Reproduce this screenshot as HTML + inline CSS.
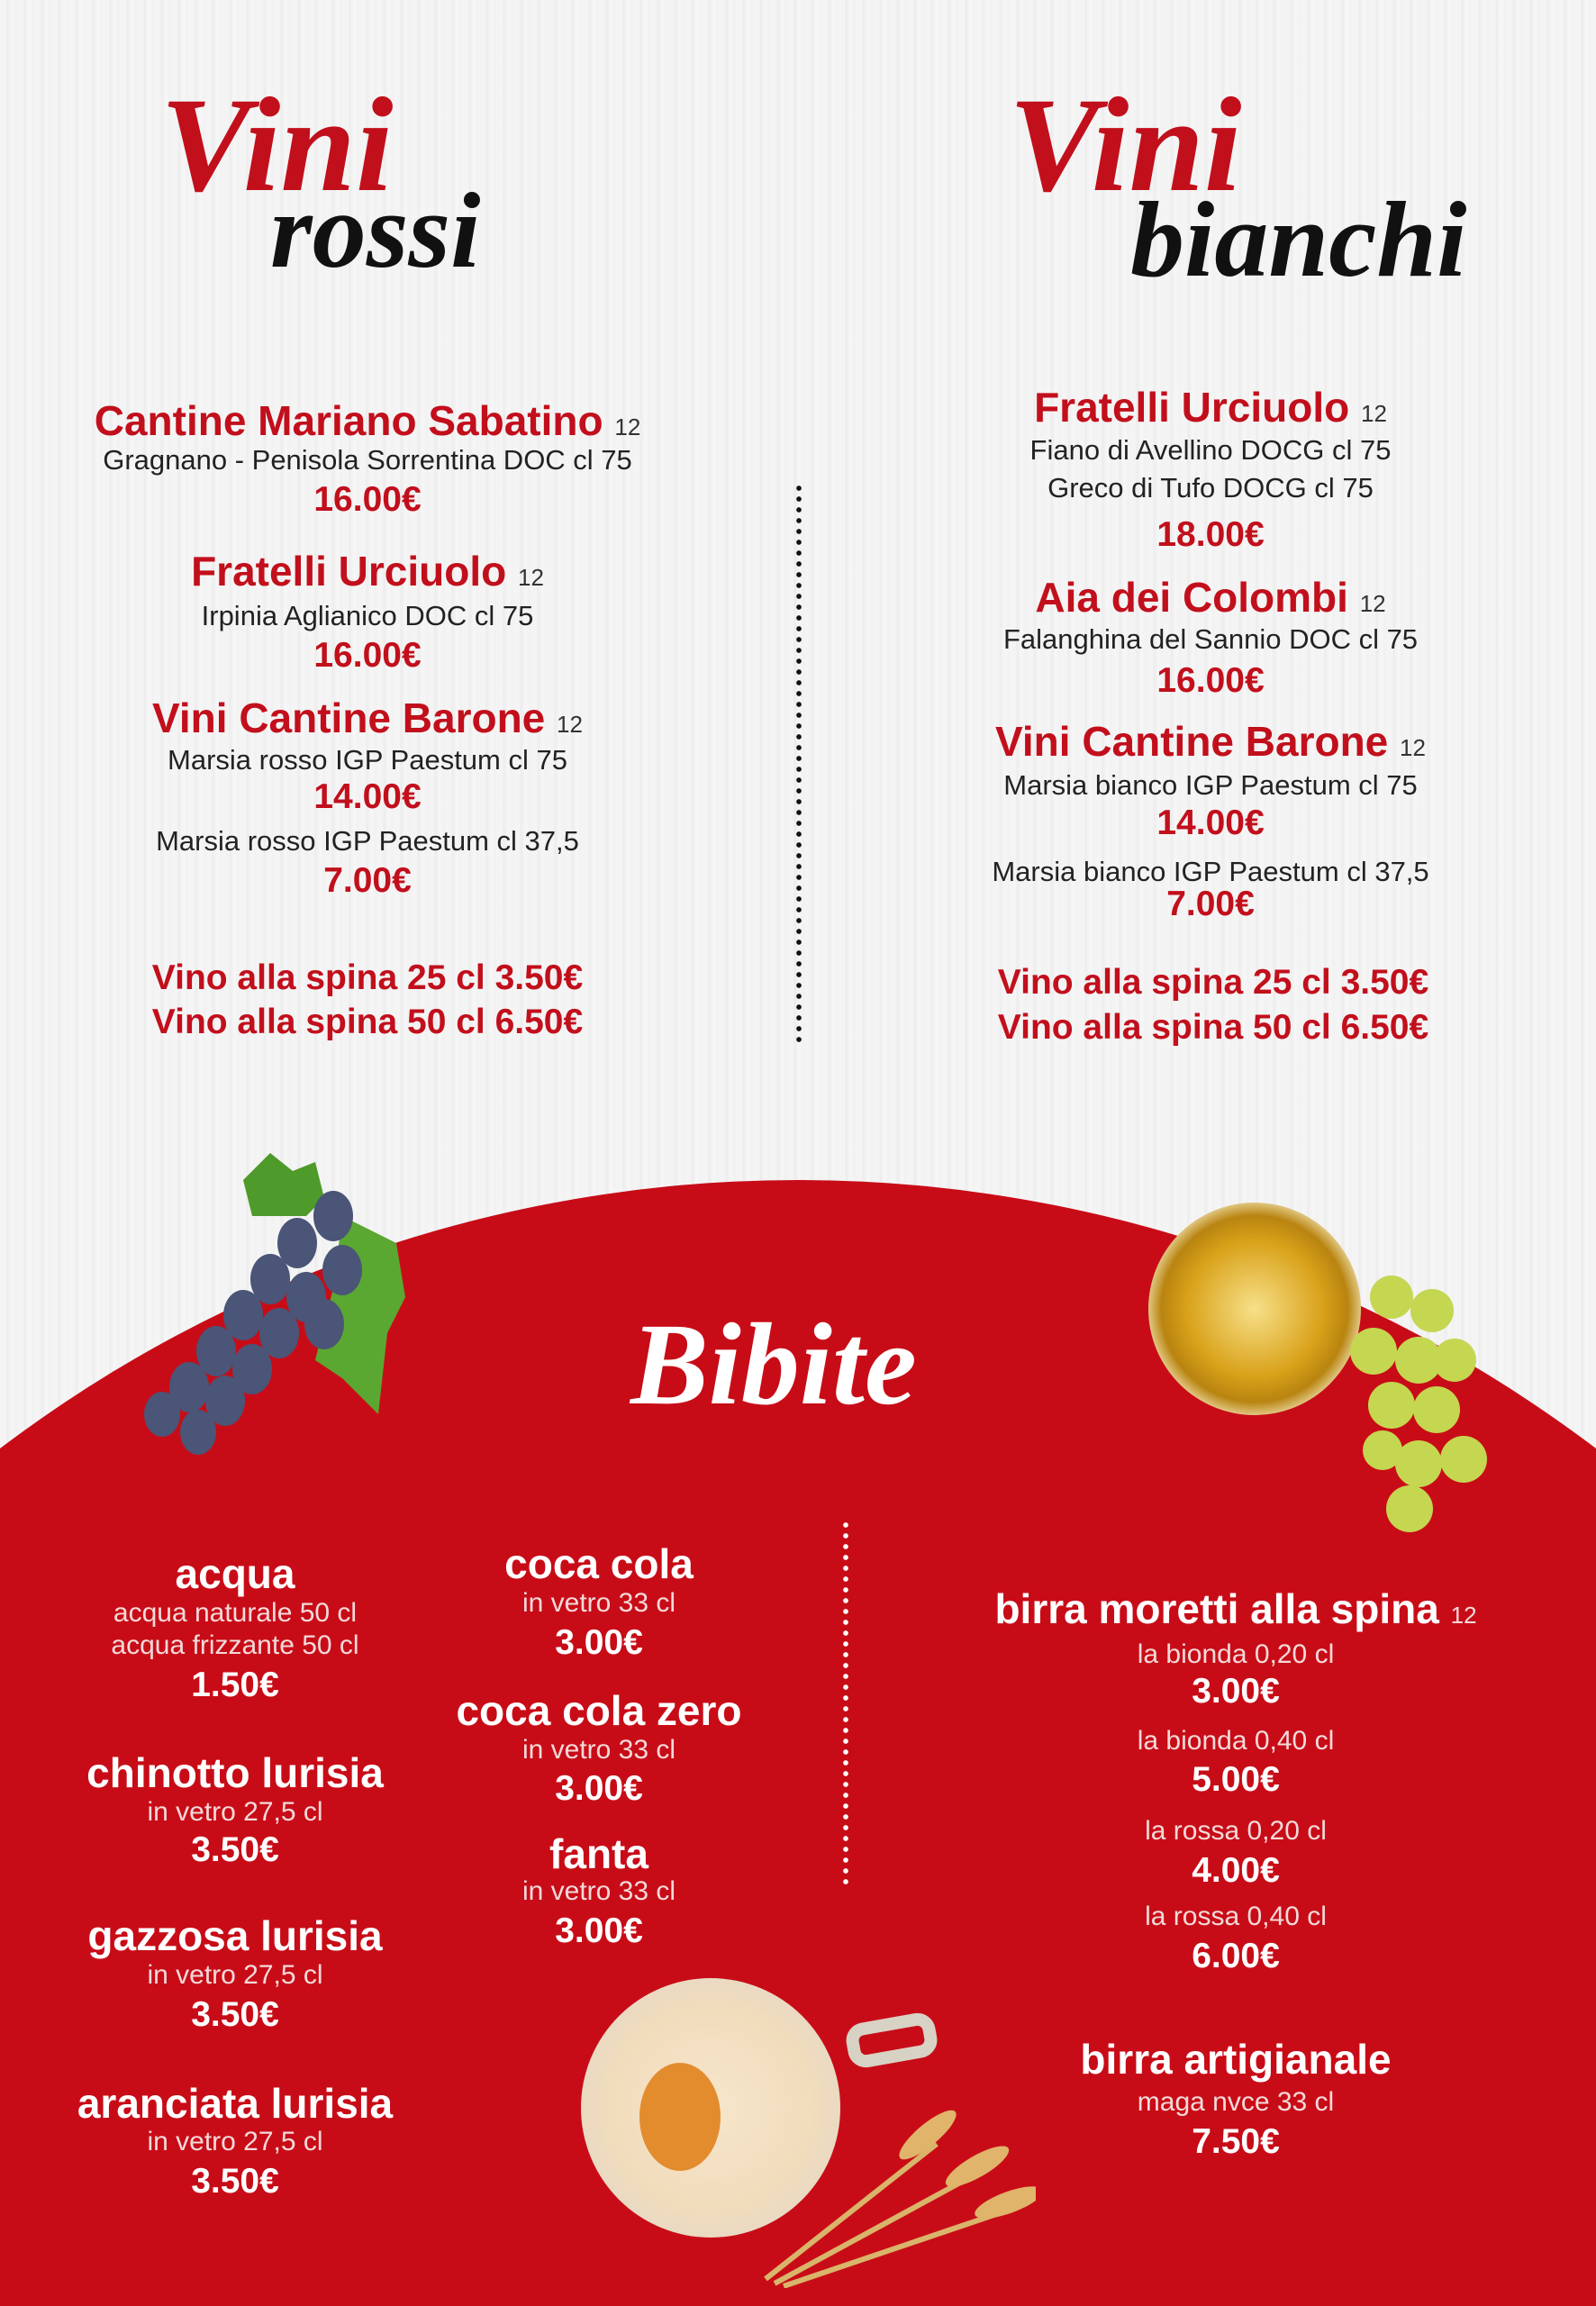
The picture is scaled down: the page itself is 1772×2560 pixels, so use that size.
<!DOCTYPE html>
<html><head><meta charset="utf-8"><style>
*{margin:0;padding:0;box-sizing:border-box}
html,body{width:1772px;height:2560px;overflow:hidden}
#wrap{width:1772px;height:2560px;overflow:hidden;position:relative;font-family:"Liberation Sans",sans-serif;
background:repeating-linear-gradient(90deg,#f4f4f4 0,#f4f4f4 7px,#ececec 8px,#f6f6f6 13px,#f1f1f1 19px)}
.l{position:absolute;text-align:center;white-space:nowrap;transform:translateX(-50%)}
.a{left:408px}.b{left:1344px}.c1{left:261px}.c2{left:665px}.c3{left:1372px}
.h{font-weight:bold;font-size:46px;line-height:46px;color:#c20f1c}
.s{font-size:31px;line-height:31px;color:#222}
.p{font-weight:bold;font-size:39px;line-height:39px;color:#c20f1c}
.n{font-size:26px;font-weight:normal;color:#333}
.wh{font-weight:bold;font-size:46px;line-height:46px;color:#fff}
.ws{font-size:30px;line-height:30px;color:#f4dada}
.wp{font-weight:bold;font-size:39px;line-height:39px;color:#fff}
.scr{position:absolute;font-family:"Liberation Serif",serif;font-style:italic;font-weight:bold;white-space:nowrap}
</style></head><body><div id="wrap">

<div class="scr" style="left:178px;top:86px;font-size:150px;line-height:150px;color:#c20f1c">Vini</div>
<div class="scr" style="left:300px;top:196px;font-size:120px;line-height:120px;color:#111">rossi</div>
<div class="scr" style="left:1120px;top:86px;font-size:150px;line-height:150px;color:#c20f1c">Vini</div>
<div class="scr" style="left:1255px;top:206px;font-size:120px;line-height:120px;color:#111">bianchi</div>

<div class="l a h" style="top:444px">Cantine Mariano Sabatino <span class="n">12</span></div>
<div class="l a s" style="top:495px">Gragnano - Penisola Sorrentina DOC cl 75</div>
<div class="l a p" style="top:535px">16.00€</div>
<div class="l a h" style="top:611px">Fratelli Urciuolo <span class="n">12</span></div>
<div class="l a s" style="top:668px">Irpinia Aglianico DOC cl 75</div>
<div class="l a p" style="top:708px">16.00€</div>
<div class="l a h" style="top:774px">Vini Cantine Barone <span class="n">12</span></div>
<div class="l a s" style="top:828px">Marsia rosso IGP Paestum cl 75</div>
<div class="l a p" style="top:865px">14.00€</div>
<div class="l a s" style="top:918px">Marsia rosso IGP Paestum cl 37,5</div>
<div class="l a p" style="top:958px">7.00€</div>
<div class="l a p" style="top:1066px">Vino alla spina 25 cl 3.50€</div>
<div class="l a p" style="top:1115px">Vino alla spina 50 cl 6.50€</div>

<div style="position:absolute;left:884px;top:536px;width:6px;height:624px;background:radial-gradient(circle,#111 2.6px,transparent 3px) 0 0/6px 12px repeat-y"></div>

<div class="l b h" style="top:429px">Fratelli Urciuolo <span class="n">12</span></div>
<div class="l b s" style="top:484px">Fiano di Avellino DOCG cl 75</div>
<div class="l b s" style="top:526px">Greco di Tufo DOCG cl 75</div>
<div class="l b p" style="top:574px">18.00€</div>
<div class="l b h" style="top:640px">Aia dei Colombi <span class="n">12</span></div>
<div class="l b s" style="top:694px">Falanghina del Sannio DOC cl 75</div>
<div class="l b p" style="top:736px">16.00€</div>
<div class="l b h" style="top:800px">Vini Cantine Barone <span class="n">12</span></div>
<div class="l b s" style="top:856px">Marsia bianco IGP Paestum cl 75</div>
<div class="l b p" style="top:894px">14.00€</div>
<div class="l b s" style="top:952px">Marsia bianco IGP Paestum cl 37,5</div>
<div class="l b p" style="top:984px">7.00€</div>
<div class="l p" style="left:1347px;top:1071px">Vino alla spina 25 cl 3.50€</div>
<div class="l p" style="left:1347px;top:1121px">Vino alla spina 50 cl 6.50€</div>

<svg style="position:absolute;left:0;top:0" width="1772" height="2560"><circle cx="886" cy="2776" r="1466" fill="#c80c17"/><rect x="0" y="1900" width="1772" height="660" fill="#c80c17"/></svg>

<svg style="position:absolute;left:150px;top:1270px" width="380" height="360">
<path d="M120 40 L150 10 L175 30 L200 20 L210 60 L190 80 L130 80 Z" fill="#4e9a2a"/>
<path d="M230 80 L290 110 L300 170 L280 210 L270 300 L230 260 L200 240 L220 160 Z" fill="#5aa832"/>
<g fill="#4a5577">
<ellipse cx="220" cy="80" rx="22" ry="28"/><ellipse cx="180" cy="110" rx="22" ry="28"/><ellipse cx="230" cy="140" rx="22" ry="28"/>
<ellipse cx="150" cy="150" rx="22" ry="28"/><ellipse cx="190" cy="170" rx="22" ry="28"/><ellipse cx="120" cy="190" rx="22" ry="28"/>
<ellipse cx="160" cy="210" rx="22" ry="28"/><ellipse cx="210" cy="200" rx="22" ry="28"/><ellipse cx="90" cy="230" rx="22" ry="28"/>
<ellipse cx="130" cy="250" rx="22" ry="28"/><ellipse cx="60" cy="270" rx="22" ry="28"/><ellipse cx="100" cy="285" rx="22" ry="28"/>
<ellipse cx="30" cy="300" rx="20" ry="25"/><ellipse cx="70" cy="320" rx="20" ry="25"/>
</g></svg>

<div style="position:absolute;left:1275px;top:1335px;width:236px;height:236px;border-radius:50%;background:radial-gradient(circle,#f7e08a 0,#d9a21a 45%,#b98410 62%,#f3e6b8 75%,#fbf4dc 100%)"></div>
<svg style="position:absolute;left:1465px;top:1400px" width="200" height="310"><g fill="#c5d650">
<circle cx="80" cy="40" r="24"/><circle cx="125" cy="55" r="24"/><circle cx="60" cy="100" r="26"/><circle cx="110" cy="110" r="26"/>
<circle cx="150" cy="110" r="24"/><circle cx="80" cy="160" r="26"/><circle cx="130" cy="165" r="26"/><circle cx="160" cy="220" r="26"/>
<circle cx="110" cy="225" r="26"/><circle cx="100" cy="275" r="26"/><circle cx="70" cy="210" r="22"/></g></svg>

<div class="scr" style="left:700px;top:1450px;font-size:130px;line-height:130px;color:#fff">Bibite</div>

<div class="l c1 wh" style="top:1724px">acqua</div>
<div class="l c1 ws" style="top:1776px">acqua naturale 50 cl</div>
<div class="l c1 ws" style="top:1812px">acqua frizzante 50 cl</div>
<div class="l c1 wp" style="top:1851px">1.50€</div>
<div class="l c1 wh" style="top:1945px">chinotto lurisia</div>
<div class="l c1 ws" style="top:1997px">in vetro 27,5 cl</div>
<div class="l c1 wp" style="top:2034px">3.50€</div>
<div class="l c1 wh" style="top:2126px">gazzosa lurisia</div>
<div class="l c1 ws" style="top:2178px">in vetro 27,5 cl</div>
<div class="l c1 wp" style="top:2217px">3.50€</div>
<div class="l c1 wh" style="top:2312px">aranciata lurisia</div>
<div class="l c1 ws" style="top:2363px">in vetro 27,5 cl</div>
<div class="l c1 wp" style="top:2402px">3.50€</div>

<div class="l c2 wh" style="top:1713px">coca cola</div>
<div class="l c2 ws" style="top:1765px">in vetro 33 cl</div>
<div class="l c2 wp" style="top:1804px">3.00€</div>
<div class="l c2 wh" style="top:1876px">coca cola zero</div>
<div class="l c2 ws" style="top:1928px">in vetro 33 cl</div>
<div class="l c2 wp" style="top:1966px">3.00€</div>
<div class="l c2 wh" style="top:2035px">fanta</div>
<div class="l c2 ws" style="top:2085px">in vetro 33 cl</div>
<div class="l c2 wp" style="top:2124px">3.00€</div>

<div style="position:absolute;left:936px;top:1687px;width:6px;height:410px;background:radial-gradient(circle,#fff 2.6px,transparent 3px) 0 0/6px 12px repeat-y"></div>

<div class="l c3 wh" style="top:1763px">birra moretti alla spina <span class="n" style="color:#f4dada">12</span></div>
<div class="l c3 ws" style="top:1822px">la bionda 0,20 cl</div>
<div class="l c3 wp" style="top:1858px">3.00€</div>
<div class="l c3 ws" style="top:1918px">la bionda 0,40 cl</div>
<div class="l c3 wp" style="top:1956px">5.00€</div>
<div class="l c3 ws" style="top:2018px">la rossa 0,20 cl</div>
<div class="l c3 wp" style="top:2057px">4.00€</div>
<div class="l c3 ws" style="top:2113px">la rossa 0,40 cl</div>
<div class="l c3 wp" style="top:2152px">6.00€</div>
<div class="l c3 wh" style="top:2263px">birra artigianale</div>
<div class="l c3 ws" style="top:2319px">maga nvce 33 cl</div>
<div class="l c3 wp" style="top:2358px">7.50€</div>

<div style="position:absolute;left:940px;top:2240px;width:100px;height:50px;border:14px solid #d8d2c4;border-radius:20px;transform:rotate(-10deg)"></div>
<div style="position:absolute;left:645px;top:2196px;width:288px;height:288px;border-radius:50%;background:radial-gradient(circle at 50% 50%,#f7e6cc 0,#f1dcbc 55%,#e6d8c6 80%,#d6cfc8 100%)"></div>
<div style="position:absolute;left:710px;top:2290px;width:90px;height:120px;border-radius:50%;background:#e38c2e"></div>
<svg style="position:absolute;left:840px;top:2310px" width="310" height="230"><g stroke="#d9b46a" stroke-width="6" fill="none">
<path d="M10 220 L200 70"/><path d="M20 225 L250 100"/><path d="M30 228 L290 140"/></g>
<g fill="#e0b46a"><ellipse cx="190" cy="60" rx="12" ry="40" transform="rotate(50 190 60)"/><ellipse cx="245" cy="95" rx="12" ry="40" transform="rotate(60 245 95)"/><ellipse cx="280" cy="135" rx="12" ry="40" transform="rotate(70 280 135)"/></g></svg>

</div></body></html>
